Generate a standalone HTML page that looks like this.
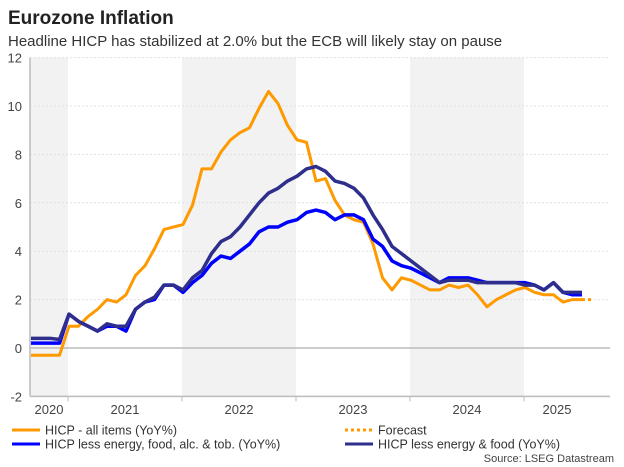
<!DOCTYPE html>
<html><head><meta charset="utf-8"><style>
body{margin:0;background:#fff;font-family:"Liberation Sans",Arial,sans-serif;}
#wrap{position:relative;width:624px;height:467px;overflow:hidden;}
</style></head><body>
<div id="wrap">
<svg id="chart" width="624" height="467" xmlns="http://www.w3.org/2000/svg">
<text x="8" y="24" font-size="19" font-weight="bold" fill="#222">Eurozone Inflation</text>
<text x="8" y="46" font-size="15" fill="#333">Headline HICP has stabilized at 2.0% but the ECB will likely stay on pause</text>
<g id="bands"></g><g id="grid"></g><g id="axes"></g><g id="series"></g>
<g font-size="12.5" fill="#333">
<line x1="12" y1="430" x2="40" y2="430" stroke="#ff9900" stroke-width="3"/>
<text x="45" y="434.5">HICP - all items (YoY%)</text>
<line x1="345" y1="430" x2="373" y2="430" stroke="#ff9900" stroke-width="3" stroke-dasharray="3,3"/>
<text x="378" y="434.5">Forecast</text>
<line x1="12" y1="444" x2="40" y2="444" stroke="#0000ff" stroke-width="3"/>
<text x="45" y="448.5">HICP less energy, food, alc. &amp; tob. (YoY%)</text>
<line x1="345" y1="444" x2="373" y2="444" stroke="#2e2e8c" stroke-width="3"/>
<text x="378" y="448.5">HICP less energy &amp; food (YoY%)</text>
</g>
<text x="614" y="462" font-size="11" fill="#444" text-anchor="end">Source: LSEG Datastream</text>
</svg>
</div>
<script>
const yTicks=[-2,0,2,4,6,8,10,12];
const years=["2020","2021","2022","2023","2024","2025"];
const hicp=[-0.3,-0.3,-0.3,-0.3,0.9,0.9,1.3,1.6,2.0,1.9,2.2,3.0,3.4,4.1,4.9,5.0,5.1,5.9,7.4,7.4,8.1,8.6,8.9,9.1,9.9,10.6,10.1,9.2,8.6,8.5,6.9,7.0,6.1,5.5,5.3,5.2,4.3,2.9,2.4,2.9,2.8,2.6,2.4,2.4,2.6,2.5,2.6,2.2,1.7,2.0,2.2,2.4,2.5,2.3,2.2,2.2,1.9,2.0,2.0];
const forecast=[2.0,2.0];
const coreExAlc=[0.2,0.2,0.2,0.2,1.4,1.1,0.9,0.7,0.9,0.9,0.7,1.6,1.9,2.0,2.6,2.6,2.3,2.7,3.0,3.5,3.8,3.7,4.0,4.3,4.8,5.0,5.0,5.2,5.3,5.6,5.7,5.6,5.3,5.5,5.5,5.3,4.5,4.2,3.6,3.4,3.3,3.1,2.9,2.7,2.9,2.9,2.9,2.8,2.7,2.7,2.7,2.7,2.7,2.6,2.4,2.7,2.3,2.2,2.2];
const core=[0.4,0.4,0.4,0.35,1.4,1.1,0.9,0.7,1.0,0.9,0.9,1.6,1.9,2.1,2.6,2.6,2.4,2.9,3.2,3.9,4.4,4.6,5.0,5.5,6.0,6.4,6.6,6.9,7.1,7.4,7.5,7.3,6.9,6.8,6.6,6.2,5.5,4.9,4.2,3.9,3.6,3.3,3.0,2.7,2.8,2.8,2.8,2.7,2.7,2.7,2.7,2.7,2.6,2.6,2.4,2.7,2.3,2.3,2.3];
const X0=30,X1=610,DX=9.5,Y0=348,DY=24.2;
const x=i=>X0+1+i*DX, y=v=>Y0-v*DY;
const NS="http://www.w3.org/2000/svg";
function mk(t,a,p){const e=document.createElementNS(NS,t);for(const k in a)e.setAttribute(k,a[k]);p.appendChild(e);return e;}
const bands=document.getElementById('bands'),grid=document.getElementById('grid'),axes=document.getElementById('axes'),ser=document.getElementById('series');
// year boundaries: Jan of each year at index 4+12k (data starts Sep 2020)
const bx=k=>X0+(4+12*(k-1))*DX;
[[X0,bx(1)],[bx(2),bx(3)],[bx(4),bx(5)]].forEach((b,i)=>{
 const r=mk('rect',{x:b[0],y:y(12),width:b[1]-b[0],height:y(-2)-y(12),fill:'#f2f2f2'},bands);
 
 
});
yTicks.forEach(v=>{
 if(v!==0&&v!==-2){const l=mk('line',{x1:X0,x2:X1,y1:y(v),y2:y(v),stroke:'#e0e0e0','stroke-dasharray':'2,2'},grid);
 
 }
 const t=mk('text',{x:22,y:y(v)+5,'font-size':13,fill:'#444','text-anchor':'end'},axes);
 t.textContent=v;
 
 
});
const zl=mk('line',{x1:X0,x2:X1,y1:y(0),y2:y(0),stroke:'#bbb','stroke-width':1.5},axes);


const ya=mk('line',{x1:X0,x2:X0,y1:y(12),y2:y(-2),stroke:'#bbb','stroke-width':1.5},axes);


const xa=mk('line',{x1:X0,x2:X1,y1:y(-2),y2:y(-2),stroke:'#bbb','stroke-width':1.5},axes);


years.forEach((yr,k)=>{
 if(k>0){const tk=mk('line',{x1:bx(k),x2:bx(k),y1:y(-2),y2:y(-2)+5,stroke:'#bbb'},axes);
 
 }
 const a=k===0?X0:bx(k), b=k===5?X1-20:bx(k+1);
 const t=mk('text',{x:(a+b)/2,y:414,'font-size':13,fill:'#444','text-anchor':'middle'},axes);
 t.textContent=yr;
 
 
});
function line(d,off,col,w,name,dash){
 const p=mk('polyline',{points:d.map((v,i)=>x(i+off)+','+y(v)).join(' '),fill:'none',stroke:col,'stroke-width':w,'stroke-linejoin':'round'},ser);
 if(dash)p.setAttribute('stroke-dasharray',dash);
 
 
}
line(hicp,0,'#ff9900',3,'line-hicp-all-items');
line(forecast,hicp.length-1,'#ff9900',3,'line-forecast','3,3');
line(coreExAlc,0,'#0000ff',3.5,'line-hicp-less-energy-food-alc-tob');
line(core,0,'#2e2e8c',3.5,'line-hicp-less-energy-food');
</script>
</body></html>
